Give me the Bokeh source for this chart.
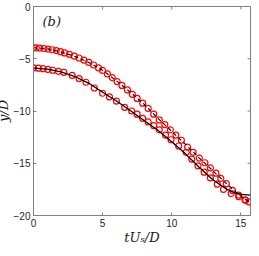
from bokeh.plotting import figure
from bokeh.models import Range1d, FixedTicker, Label
from bokeh.embed import file_html
from bokeh.resources import INLINE

# Upper trajectory (markers)
t_up = [0, 0.2, 0.45, 0.75, 1.05, 1.35, 1.65, 1.95, 2.25, 2.6, 2.95, 3.3, 3.65, 4.0, 4.35, 4.7,
        5.0, 5.35, 5.7, 6.05, 6.4, 6.8, 7.15, 7.5, 7.9, 8.3, 8.7, 9.1, 9.5, 9.9, 10.3, 10.7,
        11.15, 11.55, 12.0, 12.4, 12.8, 13.2, 13.55, 13.95, 14.4, 14.85, 15.3, 15.6]
y_up = [-3.95, -3.96, -3.98, -4.02, -4.07, -4.14, -4.22, -4.32, -4.44, -4.58, -4.75, -4.93, -5.13,
        -5.35, -5.6, -5.87, -6.12, -6.45, -6.8, -7.18, -7.55, -7.98, -8.4, -8.8, -9.25, -9.75,
        -10.3, -10.85, -11.3, -11.8, -12.3, -12.8, -13.45, -13.95, -14.5, -14.95, -15.45, -15.95,
        -16.45, -16.95, -17.6, -18.05, -18.5, -18.7]

# Lower trajectory (markers)
t_lo = [0, 0.35, 0.7, 1.05, 1.4, 1.8, 2.2, 2.8, 3.3, 3.8, 4.4, 5.0, 5.5, 6.0, 6.6, 7.1, 7.5, 7.9,
        8.3, 8.7, 9.1, 9.55, 9.95, 10.5, 11.05, 11.45, 11.9, 12.35, 12.8, 13.3, 13.75, 14.3, 14.85,
        15.35]
y_lo = [-5.87, -5.9, -5.95, -6.02, -6.1, -6.2, -6.3, -6.6, -6.9, -7.25, -7.8, -8.3, -8.65, -9.05,
        -9.65, -10.0, -10.3, -10.7, -11.05, -11.4, -11.8, -12.3, -12.75, -13.35, -13.95, -14.6,
        -15.25, -15.85, -16.4, -17.0, -17.5, -17.9, -18.2, -18.55]

# Model curves
t_line_up = [0, 1, 2, 3, 4, 5, 6, 7, 8, 9, 10, 11, 12, 13, 14, 15, 15.7]
y_line_up = [-3.95, -4.05, -4.35, -4.78, -5.35, -6.1, -7.1, -8.2, -9.35, -10.7, -11.95, -13.2,
             -14.5, -15.75, -17.0, -18.15, -18.8]
t_line_lo = [0, 1, 2, 3, 4, 5, 6, 7, 8, 9, 10, 11, 12, 13, 14, 14.5, 15, 15.7]
y_line_lo = [-5.9, -6.0, -6.25, -6.7, -7.35, -8.2, -9.05, -9.95, -10.9, -11.85, -12.95, -14.1,
             -15.4, -16.6, -17.5, -17.8, -17.98, -18.05]

x_ticks = [0, 5, 10, 15]
y_ticks = [0, -5, -10, -15, -20]

X0, X1, Y0, Y1 = 0, 15.7, -20, 0
W, H = 259, 248
BL, BT, BR, BB = 38, 6, 1, 33
fw, fh = W - BL - BR, H - BT - BB

p = figure(width=W, height=H, output_backend="svg", toolbar_location=None,
           x_range=Range1d(X0, X1), y_range=Range1d(Y0, Y1),
           min_border_left=BL, min_border_top=BT, min_border_right=BR, min_border_bottom=BB)
p.styles = {"margin-left": "-8px", "margin-right": "-8px"}
p.background_fill_color = "white"
p.border_fill_color = "white"
p.outline_line_color = "#808080"
p.outline_line_width = 1
p.grid.visible = False

axis_col = "#808080"
label_col = "#262626"

for ax in [p.xaxis[0], p.yaxis[0]]:
    ax.axis_line_color = axis_col
    ax.major_tick_line_color = axis_col
    ax.major_tick_in = 3
    ax.major_tick_out = 0
    ax.minor_tick_line_color = None
    ax.major_label_text_font = "Liberation Sans"
    ax.major_label_text_font_size = "10px"
    ax.major_label_text_color = label_col
    ax.axis_label_text_font = "DejaVu Serif"
    ax.axis_label_text_font_style = "italic"
    ax.axis_label_text_font_size = "13px"
    ax.axis_label_text_color = "#1a1a1a"

p.xaxis[0].ticker = FixedTicker(ticks=x_ticks)
p.yaxis[0].ticker = FixedTicker(ticks=y_ticks)
p.xaxis[0].axis_label = "tUₛ/D"
p.yaxis[0].axis_label = "y/D"
p.xaxis[0].major_label_standoff = 3
p.yaxis[0].major_label_standoff = 3
p.xaxis[0].axis_label_standoff = 0
p.yaxis[0].axis_label_standoff = 0

# mirrored inner ticks on top and right edges (box on)
tick_dx = 3 * (X1 - X0) / fw
tick_dy = 3 * (Y1 - Y0) / fh
p.segment(x0=x_ticks, x1=x_ticks, y0=[Y1] * len(x_ticks), y1=[Y1 - tick_dy] * len(x_ticks),
          line_color=axis_col, line_width=1)
p.segment(x0=[X1] * len(y_ticks), x1=[X1 - tick_dx] * len(y_ticks), y0=y_ticks, y1=y_ticks,
          line_color=axis_col, line_width=1)

p.scatter(t_up, y_up, marker="circle", size=6, fill_color=None, line_color="red", line_width=1.2)
p.scatter(t_lo, y_lo, marker="circle", size=6, fill_color=None, line_color="red", line_width=1.2)
p.line(t_line_up, y_line_up, line_color="black", line_width=1.1, line_dash="4 3")
p.line(t_line_lo, y_line_lo, line_color="black", line_width=1.3)

p.add_layout(Label(x=0.65, y=-2.15, text="(b)",
                   text_font="DejaVu Serif", text_font_style="italic",
                   text_font_size="13px", text_color="#1a1a1a"))

open("out.html", "w").write(file_html(p, INLINE))
